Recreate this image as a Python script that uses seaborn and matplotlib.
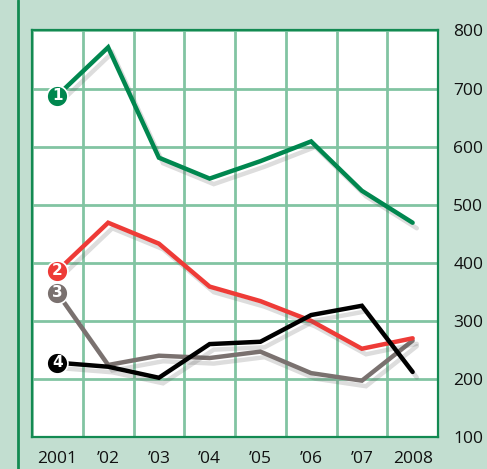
import pandas as pd
import numpy as np
import matplotlib
matplotlib.use("Agg")
import matplotlib.pyplot as plt
import matplotlib.patheffects as pe
from matplotlib.lines import Line2D
import seaborn as sns

# datos
anios = ["2001", "\u201902", "\u201903", "\u201904", "\u201905", "\u201906", "\u201907", "2008"]
serie1 = [688, 771, 581, 545, 575, 609, 524, 469]
serie2 = [386, 469, 433, 359, 334, 300, 252, 270]
serie3 = [348, 224, 240, 236, 247, 210, 197, 266]
serie4 = [228, 221, 202, 260, 264, 310, 326, 212]
etiquetas = ["1", "2", "3", "4"]
y_ticks = [100, 200, 300, 400, 500, 600, 700, 800]

colores = {"1": "#00874f", "2": "#ee3b37", "3": "#7a716f", "4": "#000000"}
fondo = "#c2ded0"
verde_borde = "#138a52"
verde_grid = "#82c4a2"

df = pd.DataFrame({
    "x": list(range(len(anios))) * 4,
    "valor": serie1 + serie2 + serie3 + serie4,
    "serie": sum([[e] * len(anios) for e in etiquetas], []),
})

sns.set_style("white")
fig = plt.figure(figsize=(4.87, 4.69), dpi=100, facecolor=fondo)
ax = fig.add_axes([32 / 487, 1 - 437 / 469, 406 / 487, 406.5 / 469])
ax.set_facecolor("white")

sombra = [pe.SimpleLineShadow(offset=(3, -4), shadow_color="#555555", alpha=0.2), pe.Normal()]
orden_z = {"1": 3, "3": 4, "2": 5, "4": 6}
for e in etiquetas:
    sub = df[df["serie"] == e]
    sns.lineplot(data=sub, x="x", y="valor", color=colores[e], linewidth=3.2,
                 ax=ax, zorder=orden_z[e], legend=False)
    ax.lines[-1].set_path_effects(sombra)
    ax.lines[-1].set_solid_joinstyle("miter")
    x0, y0 = sub["x"].iloc[0], sub["valor"].iloc[0]
    ax.plot([x0], [y0], marker="o", markersize=15, color=colores[e],
            markeredgecolor="white", markeredgewidth=1.2, zorder=10)
    ax.text(x0, y0, e, color="white", fontsize=11, fontweight="bold",
            ha="center", va="center", zorder=11)

ax.set_xlim(-0.5, 7.5)
ax.set_ylim(100, 800)
ax.set_xticks(np.arange(-0.5, 8, 1), minor=False)
ax.set_xticks(range(len(anios)), minor=True)
ax.set_xticklabels([])
ax.set_xticklabels(anios, minor=True)
ax.set_yticks(y_ticks)
ax.set_yticklabels([str(v) for v in y_ticks])
ax.yaxis.tick_right()
ax.tick_params(axis="both", which="both", length=0, labelsize=12.5)
ax.tick_params(axis="x", which="minor", pad=10)
ax.tick_params(axis="y", pad=11)
ax.grid(True, which="major", color=verde_grid, linewidth=2)
ax.set_axisbelow(True)
ax.set_xlabel("")
ax.set_ylabel("")
for s in ax.spines.values():
    s.set_color(verde_borde)
    s.set_linewidth(1.6)
for t in ax.get_xticklabels(minor=True) + ax.get_yticklabels():
    t.set_fontfamily("Open Sans")
    t.set_color("#111111")

fig.add_artist(Line2D([17.5 / 487, 17.5 / 487], [0, 1], transform=fig.transFigure,
                      color=verde_borde, linewidth=2))

fig.savefig("out.png", dpi=100, facecolor=fondo)
